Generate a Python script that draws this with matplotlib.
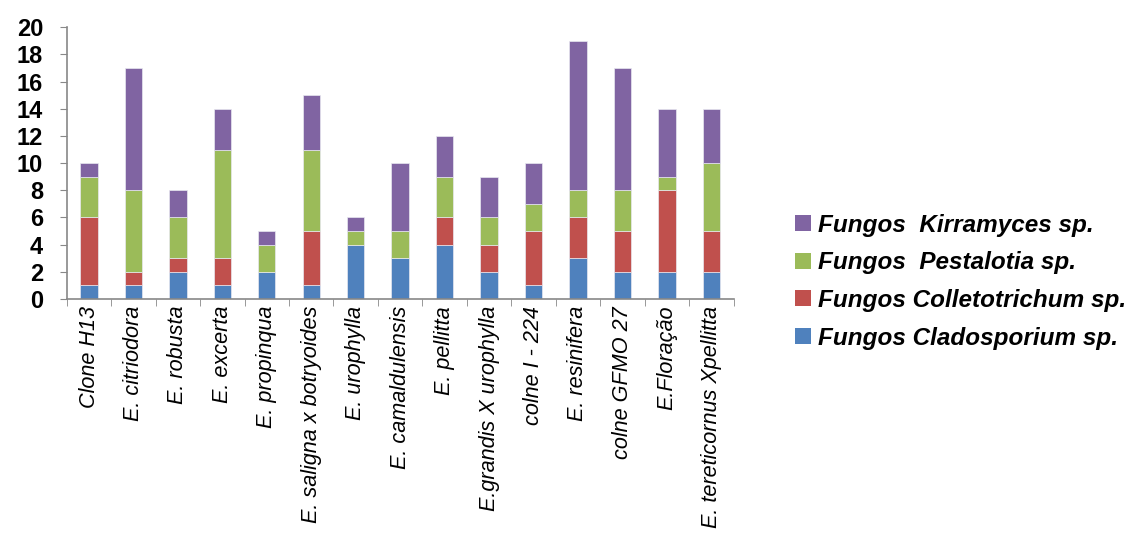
import numpy as np
import matplotlib.pyplot as plt
from matplotlib.patches import Patch

categories = ["Clone H13", "E. citriodora", "E. robusta", "E. excerta", "E. propinqua",
              "E. saligna x botryoides", "E. urophylla", "E. camaldulensis", "E. pellitta",
              "E.grandis X urophylla", "colne I - 224", "E. resinifera", "colne GFMO 27",
              "E.Floração", "E. tereticornus Xpellitta"]
cladosporium   = [1, 1, 2, 1, 2, 1, 4, 3, 4, 2, 1, 3, 2, 2, 2]
colletotrichum = [5, 1, 1, 2, 0, 4, 0, 0, 2, 2, 4, 3, 3, 6, 3]
pestalotia     = [3, 6, 3, 8, 2, 6, 1, 2, 3, 2, 2, 2, 3, 1, 5]
kirramyces     = [1, 9, 2, 3, 1, 4, 1, 5, 3, 3, 3, 11, 9, 5, 4]

series = [("Fungos Cladosporium sp.", cladosporium, "#4F81BD"),
          ("Fungos Colletotrichum sp.", colletotrichum, "#C0504D"),
          ("Fungos  Pestalotia sp.", pestalotia, "#9BBB59"),
          ("Fungos  Kirramyces sp.", kirramyces, "#8064A2")]

plt.rcParams['font.family'] = ['Liberation Sans', 'DejaVu Sans']

fig = plt.figure(figsize=(11.32, 5.33), dpi=100)
ax = fig.add_axes([0.059, 0.439, 0.589, 0.510])

x = np.arange(len(categories))
bottom = np.zeros(len(categories))
handles = []
for name, vals, col in series:
    ax.bar(x, vals, 0.39, bottom=bottom, color=col, edgecolor="#e8e8f0", linewidth=0.5)
    bottom += np.array(vals)
    handles.append(Patch(facecolor=col, label=name))

ax.set_xlim(-0.5, len(categories) - 0.5)
ax.set_ylim(0, 20)
ax.set_yticks(range(0, 21, 2))
ax.set_yticklabels([str(v) for v in range(0, 21, 2)], fontsize=17, fontweight='bold')

ax.set_xticks(x)
ax.set_xticklabels(categories, rotation=90, fontsize=15.6, style='italic', va='top')
ax.set_xticks(np.arange(-0.5, len(categories)), minor=True)
ax.tick_params(axis='x', which='major', length=0, pad=5)
ax.tick_params(axis='x', which='minor', length=5, color='#888888', direction='out')
ax.tick_params(axis='y', length=5, color='#888888', direction='out', pad=12)

for s in ['top', 'right']:
    ax.spines[s].set_visible(False)
for s in ['left', 'bottom']:
    ax.spines[s].set_color('#888888')
    ax.spines[s].set_linewidth(1.2)

fig.legend(handles=handles[::-1], loc='upper left', bbox_to_anchor=(0.683, 0.64),
           frameon=False, handlelength=0.65, handleheight=0.65, handletextpad=0.3,
           labelspacing=0.6, prop={'size': 17.5, 'style': 'italic', 'weight': 'bold'})

fig.savefig("out.png", dpi=100)
